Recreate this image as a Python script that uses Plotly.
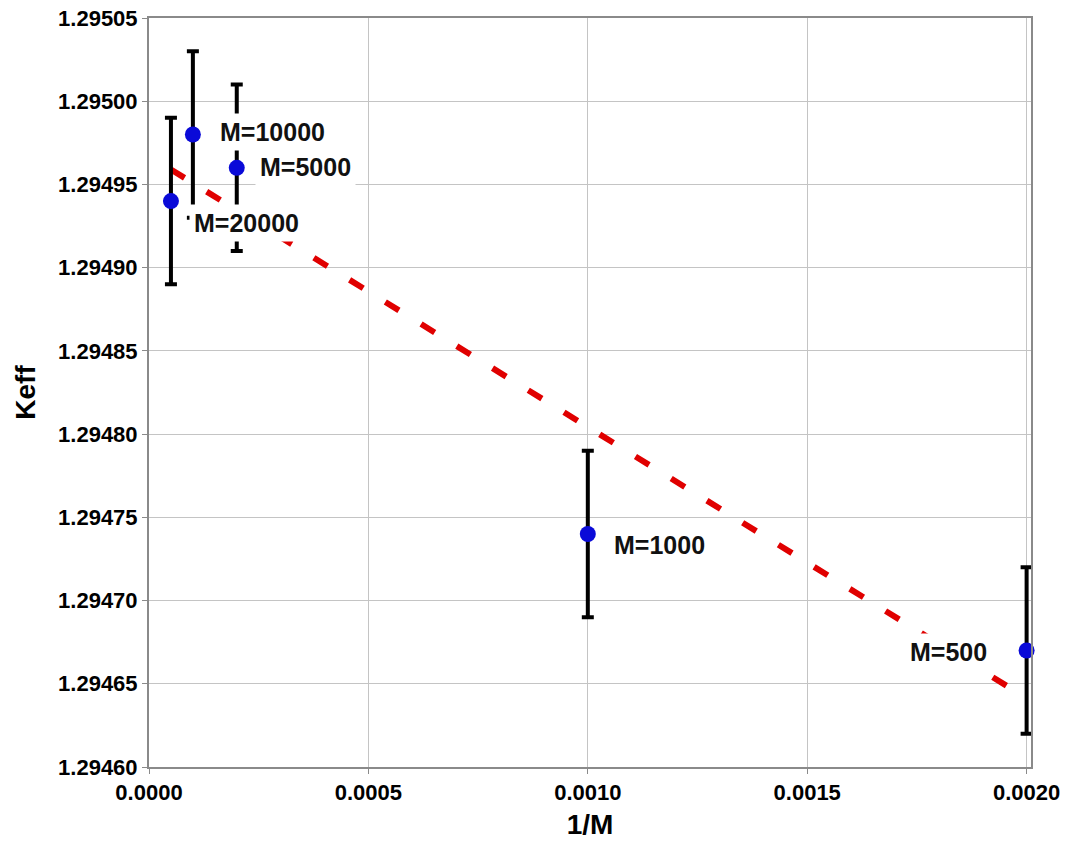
import numpy as np
import plotly.graph_objects as go

# ---- data ----
m_values = [20000, 10000, 5000, 1000, 500]
inv_m = [0.00005, 0.0001, 0.0002, 0.0010, 0.0020]
keff = [1.29494, 1.29498, 1.29496, 1.29474, 1.29467]
keff_err = [0.00005, 0.00005, 0.00005, 0.00005, 0.00005]
labels = ["M=20000", "M=10000", "M=5000", "M=1000", "M=500"]

# label placement (pixel offsets from point)
label_dx = [18, 22, 18, 21, -35]
label_dy = [-22, 3, 1, -11, -2]
label_anchor = ["left", "left", "left", "left", "right"]

# linear trend line through the data (least squares)
slope, intercept = np.polyfit(inv_m, keff, 1)
trend_x = [min(inv_m), max(inv_m)]
trend_y = [slope * v + intercept for v in trend_x]

FONT = "Liberation Sans, Arial, Helvetica, sans-serif"

fig = go.Figure()

fig.add_trace(go.Scatter(
    x=trend_x, y=trend_y, mode="lines",
    line=dict(color="#e00000", width=6, dash="16px,26px"),
    showlegend=False, hoverinfo="skip",
))

fig.add_trace(go.Scatter(
    x=inv_m, y=keff, mode="markers",
    marker=dict(color="#0a0ad8", size=16),
    error_y=dict(type="data", array=keff_err, visible=True,
                 color="black", thickness=4, width=6),
    cliponaxis=False,
    showlegend=False,
))

for x, y, t, dx, dy, anc in zip(inv_m, keff, labels, label_dx, label_dy, label_anchor):
    fig.add_annotation(
        x=x, y=y, text=f"<b>{t}</b>", showarrow=False,
        xanchor=anc, yanchor="middle", xshift=dx, yshift=dy,
        font=dict(family=FONT, size=25, color="#111111"),
        bgcolor="white", borderpad=4,
    )

fig.update_layout(
    width=1065, height=850,
    margin=dict(l=149, r=34, t=18, b=83),
    paper_bgcolor="white", plot_bgcolor="white",
    font=dict(family=FONT, color="black"),
)

fig.update_xaxes(
    range=[0, 0.00201], dtick=0.0005, tick0=0, tickformat=".4f",
    showgrid=True, gridcolor="#c4c4c4", gridwidth=1.2,
    showline=True, linecolor="#8a8a8a", linewidth=2, mirror=True,
    ticks="outside", ticklen=5, tickcolor="#8a8a8a",
    tickfont=dict(family=FONT, size=22, color="black", weight="bold"),
    ticklabeloverflow="allow",
    title=dict(text="<b>1/M</b>", font=dict(family=FONT, size=28, color="black"), standoff=10),
    zeroline=False, automargin=False,
)
fig.update_yaxes(
    range=[1.2946, 1.29505], dtick=0.00005, tick0=1.2946, tickformat=".5f",
    showgrid=True, gridcolor="#c4c4c4", gridwidth=1.2,
    showline=True, linecolor="#8a8a8a", linewidth=2, mirror=True,
    ticks="outside", ticklen=5, tickcolor="#8a8a8a",
    tickfont=dict(family=FONT, size=22, color="black", weight="bold"),
    ticklabeloverflow="allow",
    title=dict(text="<b>Keff</b>", font=dict(family=FONT, size=28, color="black"), standoff=14),
    zeroline=False, automargin=False,
)

fig.write_html(
    "out.html",
    config={"displayModeBar": False},
    post_script="document.body.style.margin='0px';document.body.style.overflow='hidden';",
)
